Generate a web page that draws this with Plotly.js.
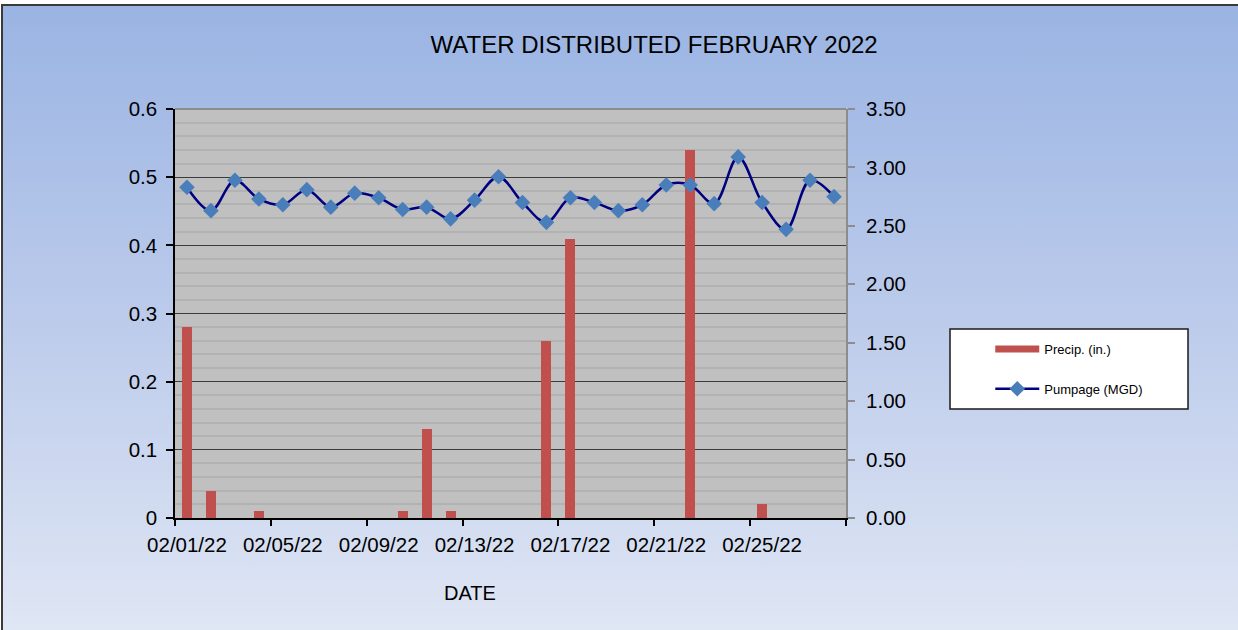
<!DOCTYPE html>
<html>
<head>
<meta charset="utf-8">
<script src="https://cdn.plot.ly/plotly-3.0.1.min.js"></script>
<style>
  html, body { margin: 0; padding: 0; background: #ffffff; }
  #frame {
    position: absolute; left: 1px; top: 4px; width: 1237px; height: 626px;
    border-top: 2px solid #3a3a3a; border-left: 2px solid #3a3a3a;
    box-sizing: border-box;
    background: linear-gradient(to bottom, #9ab4e3 0%, #bccbeb 50%, #dfe6f4 100%);
  }
  #chart { position: absolute; left: 0; top: 0; width: 1238px; height: 630px; }
</style>
</head>
<body>
<div id="frame"></div>
<div id="chart"></div>
<script>
// ---- data ----
var days = [1, 2, 3, 4, 5, 6, 7, 8, 9, 10, 11, 12, 13, 14, 15, 16, 17, 18, 19, 20, 21, 22, 23, 24, 25, 26, 27, 28];
var precip = [0.28, 0.04, 0, 0.01, 0, 0, 0, 0, 0, 0.01, 0.13, 0.01, 0, 0, 0, 0.26, 0.41, 0, 0, 0, 0, 0.54, 0, 0, 0.02, 0, 0, 0];
var pumpage = [2.83, 2.63, 2.89, 2.73, 2.68, 2.81, 2.66, 2.78, 2.74, 2.64, 2.66, 2.56, 2.72, 2.92, 2.70, 2.53, 2.74, 2.70, 2.63, 2.68, 2.85, 2.85, 2.69, 3.09, 2.70, 2.47, 2.89, 2.75];
var tickDays = [1, 5, 9, 13, 17, 21, 25];
var tickLabels = ['02/01/22', '02/05/22', '02/09/22', '02/13/22', '02/17/22', '02/21/22', '02/25/22'];
var precipName = 'Precip. (in.)';
var pumpName = 'Pumpage (MGD)';
var titleText = 'WATER DISTRIBUTED FEBRUARY 2022';
var xTitle = 'DATE';

var FONT = '"Liberation Sans", Arial, sans-serif';

var traces = [
  {
    type: 'bar', x: days, y: precip, name: precipName,
    marker: { color: '#c0504d' }, width: 0.42,
    showlegend: false, yaxis: 'y', hoverinfo: 'x+y'
  },
  {
    // legend entry for the bars (wide red bar like the original legend key)
    type: 'scatter', mode: 'lines', x: [null], y: [null], name: precipName,
    line: { color: '#c0504d', width: 7 },
    legendgroup: 'a', showlegend: true
  },
  {
    type: 'scatter', mode: 'lines+markers', x: days, y: pumpage, name: pumpName,
    yaxis: 'y2', legendgroup: 'b',
    line: { color: '#000080', width: 2.5, shape: 'spline', smoothing: 1 },
    marker: { symbol: 'diamond', size: 12, color: '#4a7ebb', line: { width: 0 } }
  }
];

var layout = {
  width: 1238, height: 630,
  margin: { l: 175, r: 392, t: 109, b: 112, pad: 0 },
  paper_bgcolor: 'rgba(0,0,0,0)',
  plot_bgcolor: '#c0c0c0',
  font: { family: FONT, color: '#000000', size: 20 },
  title: {
    text: titleText, font: { family: FONT, size: 24, color: '#000000' },
    xref: 'paper', x: 0.714, xanchor: 'center',
    yref: 'container', y: 0.929, yanchor: 'middle'
  },
  bargap: 0,
  xaxis: {
    range: [0.5, 28.5], zeroline: false, showgrid: false,
    tickmode: 'array', tickvals: tickDays, ticktext: tickLabels,
    ticks: '', showline: true, linecolor: '#000000', linewidth: 1.5,
    ticklabelstandoff: 8,
    tickfont: { family: FONT, size: 20.5, color: '#000000' },
    minor: { tick0: 0.5, dtick: 4, ticks: 'outside', ticklen: 6, tickwidth: 1.5, tickcolor: '#000000', showgrid: false }
  },
  yaxis: {
    range: [0, 0.6], dtick: 0.1, tick0: 0, zeroline: false,
    showgrid: true, gridcolor: '#3c3c3c', gridwidth: 1.2,
    showline: true, linecolor: '#000000', linewidth: 1.5,
    ticks: 'outside', ticklen: 7, tickwidth: 1.5, tickcolor: '#000000',
    ticklabelstandoff: 5,
    tickfont: { family: FONT, size: 20.5, color: '#000000' },
    minor: { dtick: 0.02, showgrid: true, gridcolor: '#b2b2b2', gridwidth: 1.5, ticks: '' }
  },
  yaxis2: {
    overlaying: 'y', side: 'right', range: [0, 3.5], dtick: 0.5, tick0: 0,
    tickformat: '.2f', showgrid: false, zeroline: false,
    showline: true, linecolor: '#8c8c8c', linewidth: 2,
    ticks: 'outside', ticklen: 7, tickwidth: 1.5, tickcolor: '#8c8c8c',
    ticklabelstandoff: 7,
    tickfont: { family: FONT, size: 20.5, color: '#000000' }
  },
  legend: {
    x: 1.215, xanchor: 'left', y: 0.45, yanchor: 'top',
    bgcolor: 'rgba(0,0,0,0)', borderwidth: 0,
    traceorder: 'grouped', tracegroupgap: 20, itemwidth: 44,
    font: { family: FONT, size: 13, color: '#000000' }
  },
  shapes: [
    { type: 'rect', xref: 'paper', yref: 'paper', x0: 1.155, x1: 1.5097, y0: 0.2665, y1: 0.4621,
      fillcolor: '#ffffff', line: { color: '#1a1a1a', width: 1.5 }, layer: 'below' },
    { type: 'line', xref: 'paper', yref: 'paper', x0: 0, x1: 1, y0: 1, y1: 1,
      line: { color: '#8c8c8c', width: 2 }, layer: 'above' }
  ],
  annotations: [
    { text: xTitle, xref: 'paper', yref: 'paper', x: (470 - 175) / 671, y: -(593 - 518) / 409,
      xanchor: 'center', yanchor: 'middle', showarrow: false,
      font: { family: FONT, size: 20, color: '#000000' } }
  ]
};

Plotly.newPlot('chart', traces, layout, { displayModeBar: false, responsive: false });
</script>
</body>
</html>
